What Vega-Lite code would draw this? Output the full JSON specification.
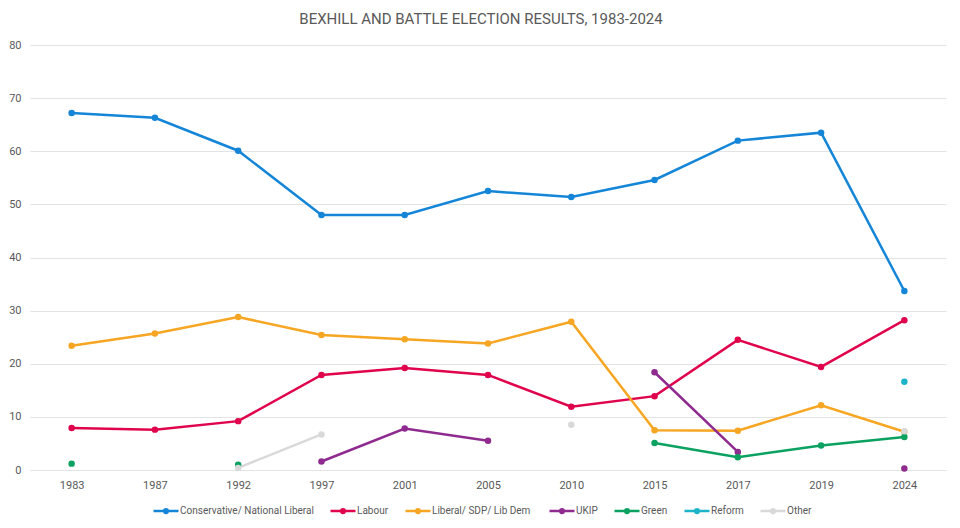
{
  "$schema": "https://vega.github.io/schema/vega-lite/v6.json",
  "autosize": "none",
  "width": 916,
  "height": 425,
  "padding": {"left": 30, "top": 45, "right": 14, "bottom": 58},
  "background": "white",
  "title": {
    "text": "BEXHILL AND BATTLE ELECTION RESULTS, 1983-2024",
    "anchor": "middle",
    "frame": "group",
    "dx": -7,
    "offset": 12,
    "font": "Roboto",
    "fontSize": 15,
    "fontWeight": "normal",
    "color": "#595959"
  },
  "config": {
    "view": {"stroke": null},
    "font": "Roboto",
    "axis": {"labelColor": "#595959", "labelFontSize": 11, "labelFont": "Roboto", "ticks": false, "title": null},
    "legend": {"labelColor": "#595959", "labelFontSize": 10, "labelFont": "Roboto"}
  },
  "data": {
    "values": [
      {"year": "1983", "party": "Conservative/ National Liberal", "pct": 67.2},
      {"year": "1987", "party": "Conservative/ National Liberal", "pct": 66.3},
      {"year": "1992", "party": "Conservative/ National Liberal", "pct": 60.1},
      {"year": "1997", "party": "Conservative/ National Liberal", "pct": 48.0},
      {"year": "2001", "party": "Conservative/ National Liberal", "pct": 48.0},
      {"year": "2005", "party": "Conservative/ National Liberal", "pct": 52.5},
      {"year": "2010", "party": "Conservative/ National Liberal", "pct": 51.4},
      {"year": "2015", "party": "Conservative/ National Liberal", "pct": 54.6},
      {"year": "2017", "party": "Conservative/ National Liberal", "pct": 62.0},
      {"year": "2019", "party": "Conservative/ National Liberal", "pct": 63.5},
      {"year": "2024", "party": "Conservative/ National Liberal", "pct": 33.7},
      {"year": "1983", "party": "Labour", "pct": 7.9},
      {"year": "1987", "party": "Labour", "pct": 7.6},
      {"year": "1992", "party": "Labour", "pct": 9.2},
      {"year": "1997", "party": "Labour", "pct": 17.9},
      {"year": "2001", "party": "Labour", "pct": 19.2},
      {"year": "2005", "party": "Labour", "pct": 17.9},
      {"year": "2010", "party": "Labour", "pct": 11.9},
      {"year": "2015", "party": "Labour", "pct": 13.9},
      {"year": "2017", "party": "Labour", "pct": 24.5},
      {"year": "2019", "party": "Labour", "pct": 19.4},
      {"year": "2024", "party": "Labour", "pct": 28.2},
      {"year": "1983", "party": "Liberal/ SDP/ Lib  Dem", "pct": 23.4},
      {"year": "1987", "party": "Liberal/ SDP/ Lib  Dem", "pct": 25.7},
      {"year": "1992", "party": "Liberal/ SDP/ Lib  Dem", "pct": 28.8},
      {"year": "1997", "party": "Liberal/ SDP/ Lib  Dem", "pct": 25.4},
      {"year": "2001", "party": "Liberal/ SDP/ Lib  Dem", "pct": 24.6},
      {"year": "2005", "party": "Liberal/ SDP/ Lib  Dem", "pct": 23.8},
      {"year": "2010", "party": "Liberal/ SDP/ Lib  Dem", "pct": 27.9},
      {"year": "2015", "party": "Liberal/ SDP/ Lib  Dem", "pct": 7.5},
      {"year": "2017", "party": "Liberal/ SDP/ Lib  Dem", "pct": 7.4},
      {"year": "2019", "party": "Liberal/ SDP/ Lib  Dem", "pct": 12.2},
      {"year": "2024", "party": "Liberal/ SDP/ Lib  Dem", "pct": 7.2},
      {"year": "1983", "party": "UKIP", "pct": null},
      {"year": "1987", "party": "UKIP", "pct": null},
      {"year": "1992", "party": "UKIP", "pct": null},
      {"year": "1997", "party": "UKIP", "pct": 1.6},
      {"year": "2001", "party": "UKIP", "pct": 7.8},
      {"year": "2005", "party": "UKIP", "pct": 5.5},
      {"year": "2010", "party": "UKIP", "pct": null},
      {"year": "2015", "party": "UKIP", "pct": 18.4},
      {"year": "2017", "party": "UKIP", "pct": 3.4},
      {"year": "2019", "party": "UKIP", "pct": null},
      {"year": "2024", "party": "UKIP", "pct": 0.3},
      {"year": "1983", "party": "Green", "pct": 1.2},
      {"year": "1987", "party": "Green", "pct": null},
      {"year": "1992", "party": "Green", "pct": 1.0},
      {"year": "1997", "party": "Green", "pct": null},
      {"year": "2001", "party": "Green", "pct": null},
      {"year": "2005", "party": "Green", "pct": null},
      {"year": "2010", "party": "Green", "pct": null},
      {"year": "2015", "party": "Green", "pct": 5.1},
      {"year": "2017", "party": "Green", "pct": 2.4},
      {"year": "2019", "party": "Green", "pct": 4.6},
      {"year": "2024", "party": "Green", "pct": 6.2},
      {"year": "2019", "party": "Reform", "pct": null},
      {"year": "2024", "party": "Reform", "pct": 16.6},
      {"year": "1987", "party": "Other", "pct": null},
      {"year": "1992", "party": "Other", "pct": 0.4},
      {"year": "1997", "party": "Other", "pct": 6.7},
      {"year": "2001", "party": "Other", "pct": null},
      {"year": "2005", "party": "Other", "pct": null},
      {"year": "2010", "party": "Other", "pct": 8.5},
      {"year": "2015", "party": "Other", "pct": null},
      {"year": "2019", "party": "Other", "pct": null},
      {"year": "2024", "party": "Other", "pct": 7.3}
    ]
  },
  "encoding": {
    "x": {
      "field": "year",
      "type": "ordinal",
      "sort": null,
      "scale": {"domain": ["1983", "1987", "1992", "1997", "2001", "2005", "2010", "2015", "2017", "2019", "2024"], "paddingInner": 1, "paddingOuter": 0.5},
      "axis": {"labelAngle": 0, "domain": false, "grid": false, "labelPadding": 9}
    },
    "y": {
      "field": "pct",
      "type": "quantitative",
      "scale": {"domain": [0, 80]},
      "axis": {"values": [0, 10, 20, 30, 40, 50, 60, 70, 80], "domain": false, "gridColor": "#e3e3e3", "gridWidth": 1.2, "labelPadding": 9}
    },
    "color": {
      "field": "party",
      "type": "nominal",
      "scale": {
        "domain": ["Conservative/ National Liberal", "Labour", "Liberal/ SDP/ Lib  Dem", "UKIP", "Green", "Reform", "Other"],
        "range": ["#1586d7", "#e0044c", "#f6a623", "#8f2b8f", "#0ba160", "#1cb4c9", "#d9d9d9"]
      },
      "legend": {
        "title": null,
        "orient": "none",
        "direction": "horizontal",
        "legendX": 122,
        "legendY": 452,
        "symbolType": "M-1,0L1,0M-0.15,0A0.15,0.15,0,1,1,0.15,0A0.15,0.15,0,1,1,-0.15,0Z",
        "symbolSize": 625,
        "symbolStrokeWidth": 2.5,
        "columnPadding": 11,
        "labelOffset": 0
      }
    }
  },
  "layer": [
    {"mark": {"type": "line", "strokeWidth": 2.5, "invalid": "break-paths-show-domains"}},
    {"mark": {"type": "point", "filled": true, "size": 42, "opacity": 1}}
  ]
}
